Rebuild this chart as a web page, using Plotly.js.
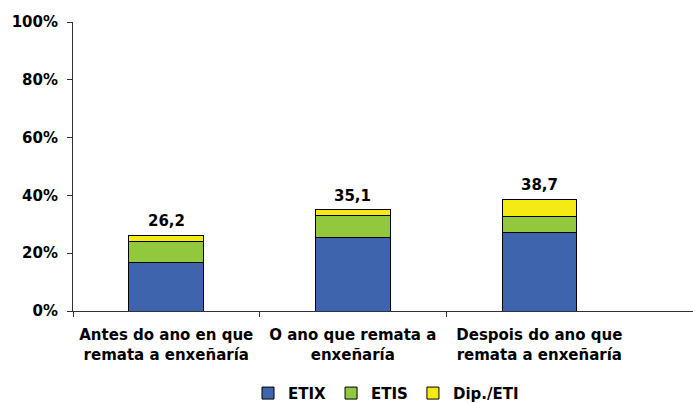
<!DOCTYPE html>
<html>
<head>
<meta charset="utf-8">
<script src="https://cdn.plot.ly/plotly-3.0.1.min.js"></script>
<style>
  html, body { margin: 0; padding: 0; background: #fff; }
  #chart { width: 693px; height: 403px; }
</style>
</head>
<body>
<div id="chart"></div>
<script>
// categories and values (percent)
const categories = [
  'Antes do ano en que<br>remata a enxeñaría',
  'O ano que remata a<br>enxeñaría',
  'Despois do ano que<br>remata a enxeñaría'
];
const etix = [16.7, 25.5, 27.1];
const etis = [7.4, 7.6, 5.7];
const dipEti = [2.1, 2.0, 5.9];
const totals = [26.2, 35.1, 38.7];
const yTicks = [0, 20, 40, 60, 80, 100];

const font = { family: 'DejaVu Sans, Verdana, sans-serif', size: 15, color: '#000', weight: 'bold' };

function barTrace(name, values, color) {
  return {
    type: 'bar',
    name: name,
    x: categories,
    y: values,
    width: 0.4,
    marker: { color: color, line: { color: '#000', width: 1 } },
    hoverinfo: 'skip'
  };
}

const traces = [
  barTrace('ETIX', etix, '#3F64AE'),
  barTrace('ETIS', etis, '#92C83E'),
  barTrace('Dip./ETI', dipEti, '#F5EA14')
];

// labels with the total on top of each bar
const annotations = categories.map((c, i) => ({
  x: c,
  y: totals[i],
  text: totals[i].toFixed(1).replace('.', ','),
  showarrow: false,
  yanchor: 'bottom',
  yshift: 3,
  font: font
}));

const xRange = [-0.5, 2.824];

const layout = {
  width: 693,
  height: 403,
  margin: { l: 73, r: 0, t: 22, b: 92, autoexpand: false },
  paper_bgcolor: '#fff',
  plot_bgcolor: '#fff',
  barmode: 'stack',
  font: font,
  showlegend: true,
  legend: {
    orientation: 'h',
    traceorder: 'normal',
    x: 0.557,
    xanchor: 'center',
    xref: 'container',
    y: 0.024,
    yanchor: 'middle',
    yref: 'container',
    font: font,
    itemwidth: 30,
    tracegroupgap: 0
  },
  xaxis: {
    type: 'category',
    range: xRange,
    showline: true,
    linecolor: '#333',
    linewidth: 1,
    ticks: '',
    showgrid: false,
    zeroline: false,
    tickfont: font,
    ticklabelstandoff: 10,
    automargin: false,
    fixedrange: true
  },
  // second axis only for the tick marks between categories
  xaxis2: {
    overlaying: 'x',
    anchor: 'y',
    range: xRange,
    tickvals: [-0.5, 0.5, 1.5],
    ticks: 'outside',
    ticklen: 5,
    tickcolor: '#333',
    showticklabels: false,
    showgrid: false,
    zeroline: false,
    showline: false
  },
  yaxis: {
    range: [0, 100],
    tickvals: yTicks,
    ticktext: yTicks.map(v => v + '%'),
    ticks: 'outside',
    ticklen: 5,
    tickcolor: '#333',
    showline: true,
    linecolor: '#333',
    linewidth: 1,
    showgrid: false,
    zeroline: false,
    tickfont: font,
    ticklabelstandoff: 6,
    automargin: false,
    fixedrange: true
  },
  annotations: annotations
};

// empty trace so xaxis2 gets drawn
traces.push({ type: 'scatter', x: [], y: [], xaxis: 'x2', yaxis: 'y', showlegend: false, hoverinfo: 'skip' });

Plotly.newPlot('chart', traces, layout, { displayModeBar: false, staticPlot: true });
</script>
</body>
</html>
